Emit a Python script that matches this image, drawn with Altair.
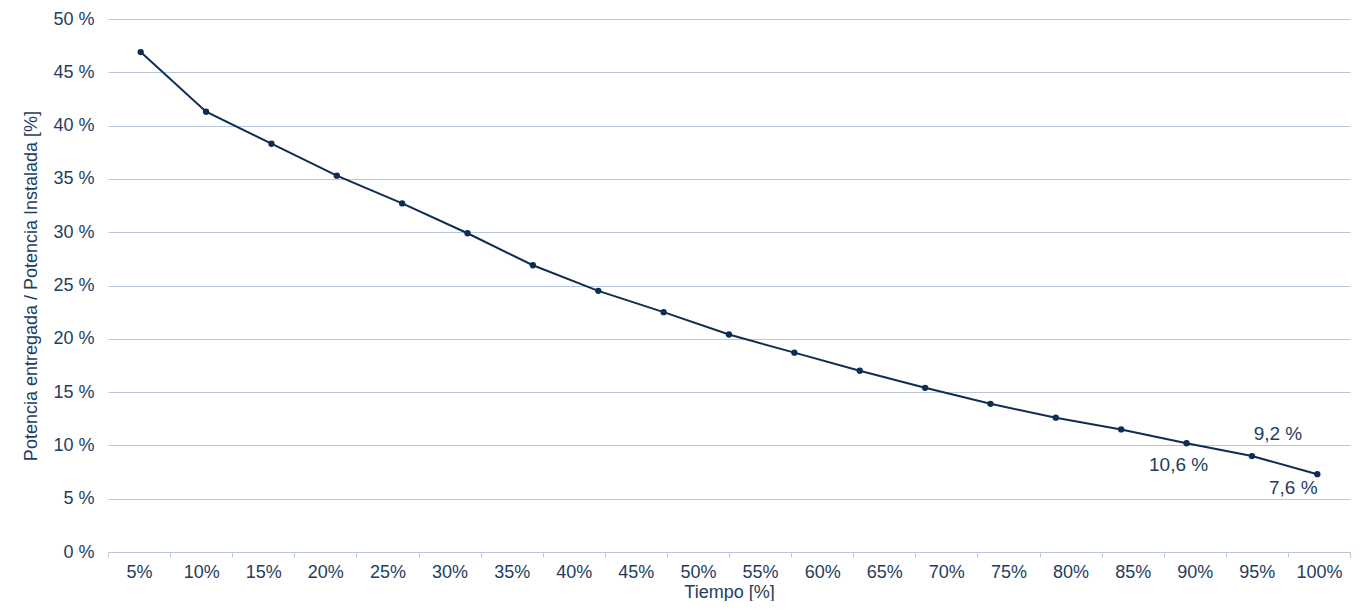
import altair as alt
import pandas as pd

axis_labels = [f"{p}%" for p in range(5, 101, 5)]
values = [46.9, 41.3, 38.3, 35.3, 32.7, 29.9, 26.9, 24.5, 22.5, 20.4, 18.7, 17.0, 15.4, 13.9, 12.6, 11.5, 10.2, 9.0, 7.3]
idx = list(range(len(values)))
ann_idx = [16, 17, 18]
ann_text = ["10,6 %", "9,2 %", "7,6 %"]

C = "#0d2d52"
T = "#1f3d5f"
font = "Liberation Sans"

df = pd.DataFrame({"i": idx, "v": values})
ax = pd.DataFrame({"c": axis_labels, "v": [0]*20})
ann = pd.DataFrame({"i": ann_idx, "v": [values[k] for k in ann_idx], "t": ann_text})

yenc = alt.Y("v:Q", scale=alt.Scale(domain=[0, 50]),
             axis=alt.Axis(values=list(range(0, 51, 5)), labelExpr="datum.value + ' %'",
                           title="Potencia entregada / Potencia Instalada [%]",
                           gridColor="#b9c5d8", domain=False, ticks=False, labelPadding=14,
                           titlePadding=12))

base_axis = alt.Chart(ax).mark_point(opacity=0).encode(
    x=alt.X("c:O", sort=axis_labels, scale=alt.Scale(paddingInner=0, paddingOuter=0),
            axis=alt.Axis(title="Tiempo [%]", labelAngle=0, grid=False, domainColor="#b9c5d8",
                          tickColor="#b9c5d8", tickBand="extent", titlePadding=2, labelPadding=6)),
    y=yenc)

xl = alt.X("i:O", scale=alt.Scale(paddingInner=0, paddingOuter=0), axis=None)
line = alt.Chart(df).mark_line(color=C, strokeWidth=2, point=alt.OverlayMarkDef(color=C, size=40, opacity=1)).encode(x=xl, y=yenc)
t1 = alt.Chart(ann[ann.i == 16]).mark_text(dy=22, dx=-8, fontSize=19, color=T, font=font).encode(x=xl, y=yenc, text="t")
t2 = alt.Chart(ann[ann.i == 17]).mark_text(dy=-22, dx=26, fontSize=19, color=T, font=font).encode(x=xl, y=yenc, text="t")
t3 = alt.Chart(ann[ann.i == 18]).mark_text(dy=14, dx=-24, fontSize=19, color=T, font=font).encode(x=xl, y=yenc, text="t")

inner = alt.layer(line, t1, t2, t3)

chart = alt.layer(base_axis, inner).resolve_scale(x="independent").properties(
    width=1242, height=533
).configure_view(stroke=None).configure_axis(
    labelFont=font, titleFont=font, labelFontSize=18, titleFontSize=18,
    labelColor=T, titleColor=T, titleFontWeight="normal"
).properties(padding={"left": 14, "top": 2, "right": 2, "bottom": 0})

chart.save("out.html", embed_options={"renderer": "svg", "actions": False})
